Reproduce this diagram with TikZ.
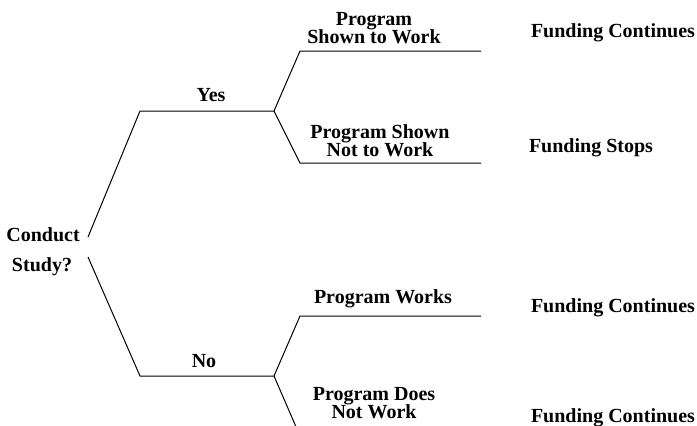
\documentclass[tikz,border=0pt]{standalone}
\usepackage{fontspec}
\setmainfont{Liberation Serif}
\usepackage{tikz}
\usetikzlibrary{positioning}
\tikzset{
  lbl/.style={font=\fontsize{20bp}{18bp}\selectfont\bfseries, anchor=base, align=center, inner sep=0pt},
  branch/.style={draw=black, line width=1bp},
}

\begin{document}
\begin{tikzpicture}[x=1bp, y=-1bp]
  \useasboundingbox (0,0) rectangle (697,425);
  \clip (0,0) rectangle (697,425);

  % Decision
  \node[lbl] (conduct) at (43, 241) {Conduct};
  \node[lbl] (study) at (42, 271) {Study?};
  \coordinate (rootup) at (88, 237);
  \coordinate (rootdn) at (88, 257);

  % Yes branch
  \coordinate (yesbend) at (140, 111);
  \coordinate (yesfork) at (274, 111);
  \draw[branch] (rootup) -- (yesbend) -- (yesfork);
  \node[lbl] (yes) at (211, 101) {Yes};

  \coordinate (shownbend) at (300, 51);
  \coordinate (shownend) at (481, 51);
  \draw[branch] (yesfork) -- (shownbend) -- (shownend);
  \node[lbl] (shown) at (374, 43) {Program\\[-1.5bp]Shown to Work};
  \node[lbl] (fundA) at (613, 37) {Funding Continues};

  \coordinate (notshownbend) at (300, 163);
  \coordinate (notshownend) at (481, 163);
  \draw[branch] (yesfork) -- (notshownbend) -- (notshownend);
  \node[lbl] (notshown) at (380, 156) {Program Shown\\[-1.5bp]Not to Work};
  \node[lbl] (fundB) at (591, 152) {Funding Stops};

  % No branch
  \coordinate (nobend) at (140, 376);
  \coordinate (nofork) at (274, 376);
  \draw[branch] (rootdn) -- (nobend) -- (nofork);
  \node[lbl] (no) at (204, 367) {No};

  \coordinate (worksbend) at (300, 316);
  \coordinate (worksend) at (481, 316);
  \draw[branch] (nofork) -- (worksbend) -- (worksend);
  \node[lbl] (works) at (383, 303) {Program Works};
  \node[lbl] (fundC) at (613, 312) {Funding Continues};

  \coordinate (notworksbend) at (300, 436);
  \coordinate (notworksend) at (481, 436);
  \draw[branch] (nofork) -- (notworksbend) -- (notworksend);
  \node[lbl] (notworks) at (374, 418) {Program Does\\[-1.5bp]Not Work};
  \node[lbl] (fundD) at (613, 422) {Funding Continues};
\end{tikzpicture}
\end{document}
